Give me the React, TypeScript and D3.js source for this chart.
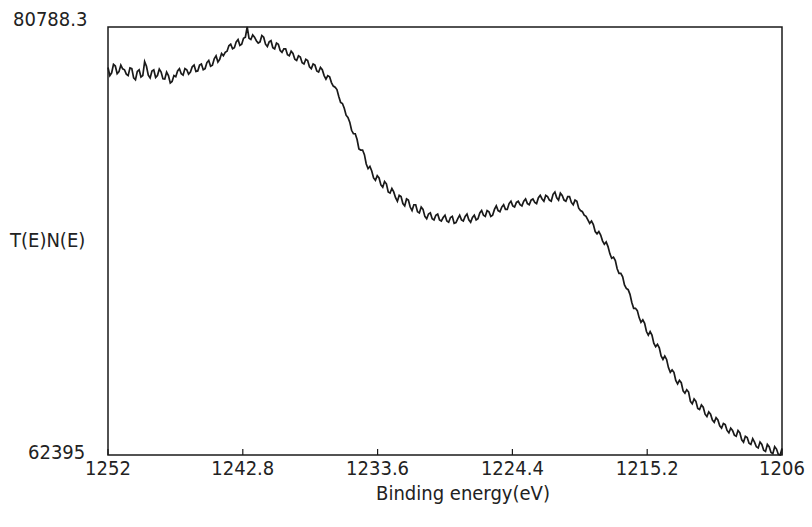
import React from "react";
import * as d3 from "d3";

// Spectrum sampled every 0.125 eV from 1252 eV down to 1206 eV (8 samples per row = 1 eV)
const startEnergy = 1252;
const stepEnergy = 0.125;
const counts: number[] = [
  79050, 78700, 78820, 79180, 79110, 78780, 78870, 79150,
  78990, 78950, 78760, 78700, 79030, 79000, 78600, 78520,
  78880, 78950, 78640, 78700, 79300, 79100, 78720, 78600,
  78900, 78950, 78620, 78700, 78980, 78850, 78560, 78550,
  78850, 78700, 78380, 78450, 78700, 78650, 78900, 79000,
  78780, 78720, 79000, 78950, 78760, 78850, 79080, 79150,
  78880, 78900, 79150, 79200, 78950, 79000, 79260, 79350,
  79100, 79150, 79420, 79550, 79280, 79400, 79650, 79550,
  79700, 79750, 79980, 80050, 79850, 79900, 80150, 80250,
  80000, 80050, 80300, 80350, 80788.3, 80300, 80250, 80450,
  80350, 80200, 80100, 80150, 80420, 80350, 80050, 79950,
  80150, 80200, 79900, 79850, 80100, 80050, 79780, 79700,
  79850, 79850, 79600, 79550, 79750, 79650, 79400, 79350,
  79550, 79500, 79250, 79200, 79400, 79350, 79080, 79000,
  79200, 79150, 78900, 78850, 79050, 78950, 78700, 78550,
  78700, 78650, 78400, 78250, 78200, 78100, 77800, 77550,
  77500, 77300, 77000, 76900, 76700, 76350, 76200, 76200,
  75950, 75550, 75500, 75500, 75300, 74900, 74700, 74800,
  74600, 74300, 74200, 74400, 74300, 74000, 73900, 74150,
  74050, 73700, 73650, 73850, 73700, 73450, 73300, 73550,
  73500, 73200, 73100, 73400, 73350, 73050, 72900, 73150,
  73150, 72850, 72800, 73050, 72950, 72650, 72550, 72750,
  72800, 72550, 72500, 72700, 72750, 72500, 72450, 72600,
  72700, 72450, 72400, 72600, 72650, 72350, 72380, 72550,
  72700, 72500, 72450, 72650, 72750, 72500, 72400, 72600,
  72700, 72500, 72550, 72800, 72900, 72700, 72650, 72900,
  72850, 72650, 72700, 72950, 73100, 72900, 72850, 73050,
  73150, 72950, 72950, 73200, 73300, 73100, 73050, 73250,
  73300, 73150, 73100, 73300, 73400, 73200, 73150, 73350,
  73400, 73250, 73200, 73450, 73550, 73400, 73300, 73550,
  73500, 73350, 73300, 73600, 73700, 73450, 73350, 73650,
  73550, 73350, 73300, 73500, 73500, 73250, 73150, 73350,
  73300, 73000, 72900, 72850, 72700, 72650, 72500, 72350,
  72450, 72300, 72000, 71900, 72000, 71850, 71600, 71450,
  71550, 71350, 71050, 70850, 70900, 70750, 70400, 70200,
  70200, 70050, 69700, 69550, 69500, 69300, 68950, 68700,
  68700, 68600, 68300, 68100, 68200, 68050, 67700, 67550,
  67700, 67550, 67200, 67050, 67150, 67000, 66650, 66500,
  66650, 66500, 66150, 65950, 66050, 65950, 65600, 65450,
  65600, 65500, 65150, 65050, 65200, 65100, 64700, 64600,
  64800, 64700, 64400, 64350, 64550, 64450, 64150, 64050,
  64250, 64150, 63900, 63800, 64000, 63900, 63650, 63550,
  63750, 63700, 63450, 63350, 63550, 63450, 63250, 63200,
  63450, 63350, 63050, 62950, 63200, 63150, 62900, 62850,
  63100, 62950, 62750, 62700, 62950, 62850, 62600, 62550,
  62850, 62750, 62500, 62450, 62750, 62650, 62420, 62395,
  62680,
];

const xTicks = [1252, 1242.8, 1233.6, 1224.4, 1215.2, 1206];
const yMin = 62395;
const yMax = 80788.3;

const W = 812;
const H = 527;
const left = 108;
const right = 782;
const top = 27;
const bottom = 455;

const font = "'DejaVu Sans', sans-serif";

export default function App() {
  const x = d3.scaleLinear().domain([1252, 1206]).range([left, right]);
  const y = d3.scaleLinear().domain([yMin, yMax]).range([bottom, top]);

  const pts: [number, number][] = counts.map((c, i) => [startEnergy - i * stepEnergy, c]);
  const line = d3
    .line<[number, number]>()
    .x((d) => x(d[0]))
    .y((d) => y(d[1]));

  const labelStyle: React.CSSProperties = {
    fontFamily: font,
    fontStretch: "condensed",
    fontSize: 20,
    fill: "#222",
  };

  return (
    <svg
      width={W}
      height={H}
      style={{ position: "absolute", left: 0, top: 0, background: "#fff" }}
    >
      <rect x={0} y={0} width={W} height={H} fill="#fff" />
      <path d={line(pts) ?? ""} fill="none" stroke="#1a1a1a" strokeWidth={1.7} strokeLinejoin="miter" />
      <rect
        x={left}
        y={top}
        width={right - left}
        height={bottom - top}
        fill="none"
        stroke="#1a1a1a"
        strokeWidth={1.5}
      />
      {xTicks.map((t) => (
        <g key={t}>
          <line x1={x(t)} x2={x(t)} y1={bottom} y2={bottom - 6} stroke="#1a1a1a" strokeWidth={1.2} />
          <text x={x(t)} y={475} textAnchor="middle" style={labelStyle}>
            {t}
          </text>
        </g>
      ))}
      <text x={13} y={26} style={labelStyle}>
        {yMax}
      </text>
      <text x={28} y={459} style={labelStyle}>
        {yMin}
      </text>
      <text x={10} y={247} style={labelStyle}>
        T(E)N(E)
      </text>
      <text x={463} y={500} textAnchor="middle" style={labelStyle}>
        Binding energy(eV)
      </text>
    </svg>
  );
}
